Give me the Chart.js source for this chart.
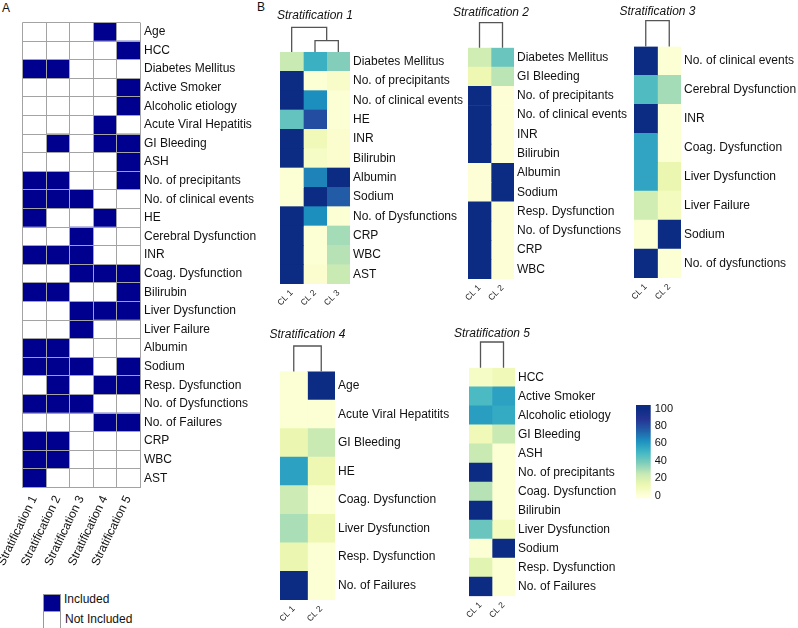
<!DOCTYPE html>
<html>
<head>
<meta charset="utf-8">
<script src="https://cdn.jsdelivr.net/npm/chart.js@4.4.0/dist/chart.umd.min.js"></script>
<style>
  body { margin: 0; background: #fff; width: 798px; height: 628px; position: relative; overflow: hidden;
         font-family: 'Liberation Sans', Arial, sans-serif; color: #111; }
  .wrap { position: absolute; }
  .letter { position: absolute; font-size: 12px; }
  .legbox { position: absolute; width: 16px; height: 16px; border: 1px solid #999; }
  .legtxt { position: absolute; font-size: 12px; line-height: 14px; }
</style>
</head>
<body>
<div class="letter" style="left:2px;top:1px">A</div>
<div class="letter" style="left:257px;top:0px">B</div>

<div class="wrap" id="wA"><canvas id="cA"></canvas></div>
<div class="wrap" id="wS1"><canvas id="cS1"></canvas></div>
<div class="wrap" id="wS2"><canvas id="cS2"></canvas></div>
<div class="wrap" id="wS3"><canvas id="cS3"></canvas></div>
<div class="wrap" id="wS4"><canvas id="cS4"></canvas></div>
<div class="wrap" id="wS5"><canvas id="cS5"></canvas></div>
<div class="wrap" id="wCB"><canvas id="cCB"></canvas></div>

<div class="legbox" style="left:43px;top:594px;background:#00008f"></div>
<div class="legbox" style="left:43px;top:611px;background:#fff"></div>
<div class="legtxt" style="left:64px;top:592px">Included</div>
<div class="legtxt" style="left:65px;top:612px">Not Included</div>

<script>
// ---- panel A: which variables each stratification uses ----
const aRows = ["Age", "HCC", "Diabetes Mellitus", "Active Smoker", "Alcoholic etiology",
  "Acute Viral Hepatitis", "GI Bleeding", "ASH", "No. of precipitants", "No. of clinical events",
  "HE", "Cerebral Dysfunction", "INR", "Coag. Dysfunction", "Bilirubin", "Liver Dysfunction",
  "Liver Failure", "Albumin", "Sodium", "Resp. Dysfunction", "No. of Dysfunctions",
  "No. of Failures", "CRP", "WBC", "AST"];
const aCols = ["Stratification 1", "Stratification 2", "Stratification 3", "Stratification 4", "Stratification 5"];
const aStrat1 = [0,0,1,0,0,0,0,0,1,1,1,0,1,0,1,0,0,1,1,0,1,0,1,1,1];
const aStrat2 = [0,0,1,0,0,0,1,0,1,1,0,0,1,0,1,0,0,1,1,1,1,0,1,1,0];
const aStrat3 = [0,0,0,0,0,0,0,0,0,1,0,1,1,1,0,1,1,0,1,0,1,0,0,0,0];
const aStrat4 = [1,0,0,0,0,1,1,0,0,0,1,0,0,1,0,1,0,0,0,1,0,1,0,0,0];
const aStrat5 = [0,1,0,1,1,0,1,1,1,0,0,0,0,1,1,1,0,0,1,1,0,1,0,0,0];

// ---- panel B: heatmaps (percent per cluster) ----
const s1Rows = ["Diabetes Mellitus", "No. of precipitants", "No. of clinical events", "HE", "INR",
  "Bilirubin", "Albumin", "Sodium", "No. of Dysfunctions", "CRP", "WBC", "AST"];
const s1Cl1 = [24, 100, 100, 43, 100, 100, 2, 2, 100, 100, 100, 100];
const s1Cl2 = [52, 2, 63, 80, 10, 6, 66, 100, 63, 2, 2, 3];
const s1Cl3 = [37, 5, 2, 2, 3, 3, 100, 76, 2, 31, 28, 24];
const s1Tree = [[1, 2, 0.46], [0, 3, 1]];

const s2Rows = ["Diabetes Mellitus", "GI Bleeding", "No. of precipitants", "No. of clinical events",
  "INR", "Bilirubin", "Albumin", "Sodium", "Resp. Dysfunction", "No. of Dysfunctions", "CRP", "WBC"];
const s2Cl1 = [22, 12, 100, 100, 100, 100, 1, 1, 100, 100, 100, 100];
const s2Cl2 = [42, 27, 1, 1, 1, 1, 100, 100, 1, 1, 1, 1];
const s2Tree = [[0, 1, 1]];

const s3Rows = ["No. of clinical events", "Cerebral Dysfunction", "INR", "Coag. Dysfunction",
  "Liver Dysfunction", "Liver Failure", "Sodium", "No. of dysfunctions"];
const s3Cl1 = [100, 47, 100, 56, 56, 22, 2, 100];
const s3Cl2 = [2, 31, 2, 2, 13, 8, 100, 2];
const s3Tree = [[0, 1, 1]];

const s4Rows = ["Age", "Acute Viral Hepatitits", "GI Bleeding", "HE", "Coag. Dysfunction",
  "Liver Dysfunction", "Resp. Dysfunction", "No. of Failures"];
const s4Cl1 = [2, 2, 13, 57, 23, 30, 13, 100];
const s4Cl2 = [100, 2, 24, 12, 2, 12, 2, 2];
const s4Tree = [[0, 1, 1]];

const s5Rows = ["HCC", "Active Smoker", "Alcoholic etiology", "GI Bleeding", "ASH",
  "No. of precipitants", "Coag. Dysfunction", "Bilirubin", "Liver Dysfunction", "Sodium",
  "Resp. Dysfunction", "No. of Failures"];
const s5Cl1 = [6, 48, 58, 10, 24, 100, 28, 100, 42, 2, 16, 100];
const s5Cl2 = [10, 57, 54, 24, 2, 2, 2, 2, 8, 100, 2, 2];
const s5Tree = [[0, 1, 1]];

const colorTicks = [0, 20, 40, 60, 80, 100];

// YlGnBu
const cmapStops = ["#FFFFD9", "#EDF8B1", "#C7E9B4", "#7FCDBB", "#41B6C4", "#1D91C0", "#225EA8", "#253494", "#0C2C84"];
const NAVY = "#00008f";
const GRIDGREY = "#a3a3a3";

Chart.defaults.font.family = "'Liberation Sans', Arial, sans-serif";
Chart.defaults.color = "#111";

function hexRgb(h) {
  return [1, 3, 5].map(i => parseInt(h.slice(i, i + 2), 16));
}
function ylgnbu(v) {
  const t = Math.max(0, Math.min(1, v / 100)) * (cmapStops.length - 1);
  const i = Math.min(Math.floor(t), cmapStops.length - 2);
  const f = t - i;
  const a = hexRgb(cmapStops[i]), b = hexRgb(cmapStops[i + 1]);
  const c = a.map((x, k) => Math.round(x + (b[k] - x) * f));
  return `rgb(${c[0]},${c[1]},${c[2]})`;
}

function place(id, c) {
  const el = document.getElementById(id);
  el.style.left = c.left + "px";
  el.style.top = c.top + "px";
  el.style.width = c.w + "px";
  el.style.height = c.h + "px";
}

// fixes an axis' thickness so the plot area sits where we want it
function fixSize(size) {
  return scale => {
    if (scale.isHorizontal()) scale.height = size; else scale.width = size;
    scale.paddingLeft = 0; scale.paddingRight = 0;
    scale.paddingTop = 0; scale.paddingBottom = 0;
  };
}

// dendrogram + italic title above each heatmap
const dendroPlugin = {
  id: "dendro",
  afterDraw(chart, args, opts) {
    const { ctx, chartArea, scales } = chart;
    if (opts.title) {
      ctx.save();
      ctx.font = "italic 12px 'Liberation Sans', Arial, sans-serif";
      ctx.fillStyle = "#111";
      ctx.textAlign = "center";
      ctx.textBaseline = "middle";
      ctx.fillText(opts.title, (chartArea.left + chartArea.right) / 2, chartArea.top - opts.titleGap);
      ctx.restore();
    }
    if (!opts.tree) return;
    const nodes = chart.data.datasets.map((d, i) => ({ x: scales.x.getPixelForValue(i + 0.5), y: chartArea.top }));
    ctx.save();
    ctx.strokeStyle = "#555";
    ctx.lineWidth = 1.3;
    opts.tree.forEach(([a, b, h]) => {
      const A = nodes[a], B = nodes[b];
      const y = chartArea.top - h * opts.height;
      ctx.beginPath();
      ctx.moveTo(A.x, A.y); ctx.lineTo(A.x, y); ctx.lineTo(B.x, y); ctx.lineTo(B.x, B.y);
      ctx.stroke();
      nodes.push({ x: (A.x + B.x) / 2, y });
    });
    ctx.restore();
  }
};

// ---- panel A ----
(function () {
  const cv = { left: 0, top: 0, w: 264, h: 580 };
  const area = { left: 22.5, top: 22.5, right: 140, bottom: 487.5 };
  place("wA", cv);
  const cols = [aStrat1, aStrat2, aStrat3, aStrat4, aStrat5];
  const ticks = [];
  cols.forEach((c, i) => { ticks.push(i); ticks.push(i + 0.5); });
  ticks.push(cols.length);
  new Chart(document.getElementById("cA"), {
    type: "bar",
    data: {
      labels: aRows,
      datasets: cols.map((vals, j) => ({
        label: aCols[j],
        data: vals.map(() => [j, j + 1]),
        backgroundColor: vals.map(v => v ? NAVY : "#fff"),
        borderWidth: 0,
        grouped: false,
        barPercentage: 1,
        categoryPercentage: 1
      }))
    },
    options: {
      indexAxis: "y",
      responsive: true,
      maintainAspectRatio: false,
      animation: false,
      layout: { padding: { left: area.left - cv.left, top: area.top - cv.top, right: 0, bottom: 0 } },
      plugins: { legend: { display: false }, tooltip: { enabled: false } },
      scales: {
        x: {
          type: "linear", min: 0, max: cols.length,
          afterBuildTicks: s => { s.ticks = ticks.map(v => ({ value: v })); },
          afterFit: fixSize(cv.top + cv.h - area.bottom),
          border: { display: false },
          grid: { z: 1, drawTicks: false, color: c => Number.isInteger(c.tick.value) ? GRIDGREY : "rgba(0,0,0,0)" },
          ticks: {
            autoSkip: false, minRotation: 64, maxRotation: 64, padding: 6,
            font: { size: 12 }, color: "#111",
            callback: v => Number.isInteger(v) ? "" : aCols[Math.floor(v)]
          }
        },
        y: {
          position: "right",
          afterFit: fixSize(cv.left + cv.w - area.right),
          border: { display: false },
          grid: { z: 1, offset: true, drawTicks: false, color: GRIDGREY },
          ticks: { autoSkip: false, padding: 4, font: { size: 12 }, color: "#111" }
        }
      }
    }
  });
})();

// ---- panel B heatmaps ----
function heatmap(canvasId, wrapId, spec) {
  const { cv, area } = spec;
  place(wrapId, cv);
  const n = spec.cols.length;
  const ticks = spec.cols.map((c, i) => i + 0.5);
  new Chart(document.getElementById(canvasId), {
    type: "bar",
    data: {
      labels: spec.rows,
      datasets: spec.cols.map((vals, j) => ({
        label: "CL " + (j + 1),
        data: vals.map(() => [j, j + 1]),
        backgroundColor: vals.map(ylgnbu),
        borderWidth: 0,
        grouped: false,
        barPercentage: 1,
        categoryPercentage: 1
      }))
    },
    plugins: [dendroPlugin],
    options: {
      indexAxis: "y",
      responsive: true,
      maintainAspectRatio: false,
      animation: false,
      layout: { padding: { top: area.top - cv.top, left: area.left - cv.left, right: 0, bottom: 0 } },
      plugins: {
        legend: { display: false },
        tooltip: { enabled: false },
        dendro: { tree: spec.tree, height: spec.dendroH, title: spec.title, titleGap: area.top - spec.titleY }
      },
      scales: {
        x: {
          type: "linear", min: 0, max: n,
          afterBuildTicks: s => { s.ticks = ticks.map(v => ({ value: v })); },
          afterFit: fixSize(cv.top + cv.h - area.bottom),
          border: { display: false },
          grid: { display: false, drawTicks: false },
          ticks: {
            autoSkip: false, minRotation: 45, maxRotation: 45, padding: 4,
            font: { size: 8.5 }, color: "#222",
            callback: v => "CL " + (Math.floor(v) + 1)
          }
        },
        y: {
          position: "right",
          afterFit: fixSize(cv.left + cv.w - area.right),
          border: { display: false },
          grid: { display: false, drawTicks: false },
          ticks: { autoSkip: false, padding: 3, font: { size: 12 }, color: "#111" }
        }
      }
    }
  });
}

heatmap("cS1", "wS1", {
  title: "Stratification 1", rows: s1Rows, cols: [s1Cl1, s1Cl2, s1Cl3], tree: s1Tree,
  cv: { left: 266, top: 0, w: 200, h: 312 }, area: { left: 280, top: 52, right: 350, bottom: 284 },
  titleY: 15.5, dendroH: 24.7
});
heatmap("cS2", "wS2", {
  title: "Stratification 2", rows: s2Rows, cols: [s2Cl1, s2Cl2], tree: s2Tree,
  cv: { left: 448, top: 0, w: 180, h: 312 }, area: { left: 468, top: 47.7, right: 514, bottom: 279 },
  titleY: 12.5, dendroH: 25
});
heatmap("cS3", "wS3", {
  title: "Stratification 3", rows: s3Rows, cols: [s3Cl1, s3Cl2], tree: s3Tree,
  cv: { left: 614, top: 0, w: 184, h: 312 }, area: { left: 634, top: 46.5, right: 681, bottom: 278 },
  titleY: 11.7, dendroH: 25.8
});
heatmap("cS4", "wS4", {
  title: "Stratification 4", rows: s4Rows, cols: [s4Cl1, s4Cl2], tree: s4Tree,
  cv: { left: 262, top: 318, w: 203, h: 305 }, area: { left: 280, top: 371.4, right: 335, bottom: 600 },
  titleY: 335, dendroH: 25.4
});
heatmap("cS5", "wS5", {
  title: "Stratification 5", rows: s5Rows, cols: [s5Cl1, s5Cl2], tree: s5Tree,
  cv: { left: 449, top: 318, w: 180, h: 305 }, area: { left: 469, top: 367.8, right: 515, bottom: 596.2 },
  titleY: 333.3, dendroH: 25.8
});

// ---- colour bar ----
(function () {
  const cv = { left: 636, top: 395, w: 44, h: 115 };
  const area = { left: 636, top: 405, right: 650.7, bottom: 498.3 };
  place("wCB", cv);
  new Chart(document.getElementById("cCB"), {
    type: "bar",
    data: {
      labels: [""],
      datasets: [{
        data: [[-3, 104]],
        barPercentage: 1, categoryPercentage: 1, borderWidth: 0,
        backgroundColor: c => {
          const ch = c.chart;
          if (!ch.chartArea) return cmapStops[0];
          const y = ch.scales.y;
          const g = ch.ctx.createLinearGradient(0, y.getPixelForValue(0), 0, y.getPixelForValue(100));
          cmapStops.forEach((col, i) => g.addColorStop(i / (cmapStops.length - 1), col));
          return g;
        }
      }]
    },
    options: {
      responsive: true,
      maintainAspectRatio: false,
      animation: false,
      layout: { padding: { left: 0, right: 0, top: area.top - cv.top, bottom: cv.top + cv.h - area.bottom } },
      plugins: { legend: { display: false }, tooltip: { enabled: false } },
      scales: {
        x: { display: false },
        y: {
          position: "right", min: -3, max: 104,
          afterBuildTicks: s => { s.ticks = colorTicks.map(v => ({ value: v })); },
          afterFit: fixSize(cv.left + cv.w - area.right),
          border: { display: false },
          grid: { display: false, drawTicks: false },
          ticks: { padding: 4, font: { size: 11 }, color: "#111" }
        }
      }
    }
  });
})();
</script>
</body>
</html>
